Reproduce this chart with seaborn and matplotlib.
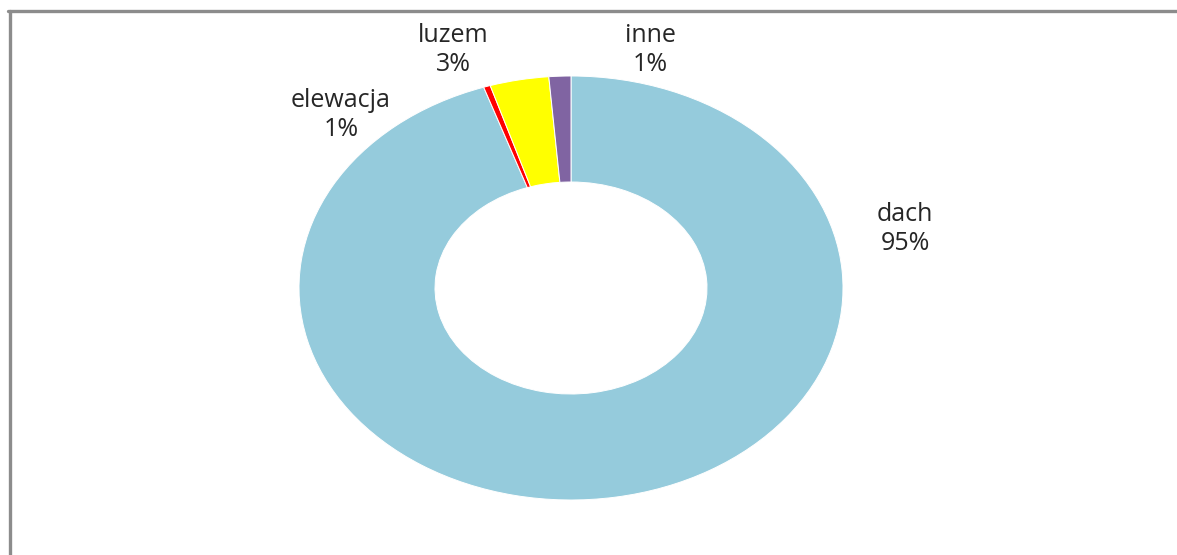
import seaborn as sns
import matplotlib.pyplot as plt
from matplotlib.lines import Line2D

sns.set_theme(style="white")
plt.rcParams['font.family'] = ['Open Sans', 'DejaVu Sans']

# data
categories = ["dach", "elewacja", "luzem", "inne"]
shares = [94.8, 0.4, 3.5, 1.3]
label_texts = ["95%", "1%", "3%", "1%"]
colors = ["#95cbdc", "#ff0000", "#ffff00", "#8064a2"]

W, H = 1177, 555
fig = plt.figure(figsize=(W / 100, H / 100), dpi=100)
fig.patch.set_facecolor("white")

# axes sized so the pie becomes the stretched (elliptical) donut
cx, cy, rx, ry = 571, 288, 272, 212
ax = fig.add_axes([(cx - rx) / W, (H - cy - ry) / H, 2 * rx / W, 2 * ry / H])
wedges, _ = ax.pie(shares, colors=colors, startangle=90, counterclock=False,
                   radius=1.0,
                   wedgeprops=dict(width=0.5, edgecolor="white", linewidth=0.7))
ax.set_aspect("auto")
ax.set_xlim(-1, 1)
ax.set_ylim(-1, 1)
ax.axis("off")

# outside labels (pixel positions of the text centres)
label_pos = {"dach": (905, 229), "elewacja": (341, 115), "luzem": (453, 50), "inne": (650, 50)}
for cat, pct in zip(categories, label_texts):
    px, py = label_pos[cat]
    fig.text(px / W, 1 - py / H, f"{cat}\n{pct}", ha="center", va="center",
             fontsize=18, color="#262626", linespacing=1.25)

# grey frame on top and left
fig.add_artist(Line2D([9.5 / W, 9.5 / W], [0, 1 - 10.5 / H], transform=fig.transFigure,
                      color="#8c8c8c", linewidth=2.4))
fig.add_artist(Line2D([8 / W, 1], [1 - 10.5 / H, 1 - 10.5 / H], transform=fig.transFigure,
                      color="#8c8c8c", linewidth=2.4))

fig.savefig("out.png", dpi=100)
